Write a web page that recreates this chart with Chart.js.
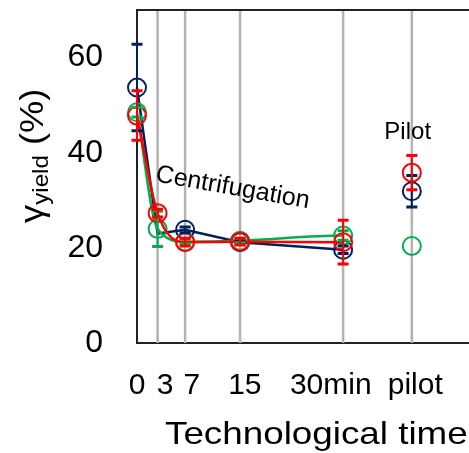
<!DOCTYPE html>
<html>
<head>
<meta charset="utf-8">
<script src="https://cdn.jsdelivr.net/npm/chart.js@4.4.1/dist/chart.umd.min.js"></script>
<style>
  html, body { margin: 0; padding: 0; background: #fff; overflow: hidden; }
  canvas { display: block; }
</style>
</head>
<body>
<!-- a little wider than the window: the plot box runs off the right edge like the original -->
<canvas id="yieldChart" width="474" height="453"></canvas>
<script>
// x positions (min), pilot plant put at 40
const times = [0, 3, 7, 15, 30, 40];
const timeLabels = ["0", "3", "7", "15", "30min", "pilot"];
const labelSpots = [0, 4.1, 8, 15.7, 28.2, 40.5];
const yTicks = [0, 20, 40, 60];

// yield values per run
const blueYield = [53.7, 23.0, 23.8, 21.2, 19.6, 31.9];
const blueErr = [9.1, 0, 0.6, 0.5, 0.8, 3.3];
const greenYield = [48.5, 24.0, 21.3, 21.5, 22.6, 20.4];
const greenErr = [1.0, 3.7, 0.5, 0.5, 1.0, 0];
const redYield = [47.8, 27.3, 21.2, 21.3, 21.2, 35.8];
const redErr = [5.2, 0.8, 0.8, 0.7, 4.6, 3.6];

const NAVY = "#002060";
const GREEN = "#00b050";
const RED = "#ff0000";
const FONT = "'Liberation Sans', Arial, sans-serif";

const toPoints = (vals) => vals.map((v, i) => ({ x: times[i], y: v }));

// no line between 30 min and pilot
const hidePilotSegment = {
  borderColor: (ctx) => (ctx.p1DataIndex === times.length - 1 ? "transparent" : undefined),
};

const errorBars = {
  id: "errorBars",
  afterDatasetsDraw(chart) {
    const { ctx, scales, chartArea } = chart;
    ctx.save();
    // keep the open right side of the plot box clean
    ctx.fillStyle = "#fff";
    ctx.fillRect(462, chartArea.top + 2, chart.width - 462, chartArea.bottom - chartArea.top - 4);

    const sets = [
      [blueYield, blueErr, NAVY],
      [greenYield, greenErr, GREEN],
      [redYield, redErr, RED],
    ];
    sets.forEach(([vals, errs, color]) => {
      ctx.strokeStyle = color;
      vals.forEach((v, i) => {
        if (!errs[i]) return;
        const x = scales.x.getPixelForValue(times[i]);
        const top = scales.y.getPixelForValue(v + errs[i]);
        const bot = scales.y.getPixelForValue(v - errs[i]);
        ctx.lineWidth = 2;
        ctx.beginPath();
        ctx.moveTo(x, top);
        ctx.lineTo(x, bot);
        ctx.stroke();
        ctx.lineWidth = 3;
        ctx.beginPath();
        ctx.moveTo(x - 5.5, top);
        ctx.lineTo(x + 5.5, top);
        ctx.moveTo(x - 5.5, bot);
        ctx.lineTo(x + 5.5, bot);
        ctx.stroke();
      });
    });
    ctx.restore();
  },
};

const frame = {
  id: "frame",
  beforeDatasetsDraw(chart) {
    const { ctx, chartArea, scales } = chart;
    ctx.save();
    // vertical grid lines at each sampling time
    ctx.strokeStyle = "#b3b3b3";
    ctx.lineWidth = 2.5;
    times.forEach((t) => {
      if (t === 0) return;
      const x = scales.x.getPixelForValue(t);
      ctx.beginPath();
      ctx.moveTo(x, chartArea.top);
      ctx.lineTo(x, chartArea.bottom);
      ctx.stroke();
    });
    // top border
    ctx.strokeStyle = "#222";
    ctx.lineWidth = 2;
    ctx.beginPath();
    ctx.moveTo(chartArea.left - 1, chartArea.top);
    ctx.lineTo(chartArea.right, chartArea.top);
    ctx.stroke();
    ctx.restore();
  },
  afterDraw(chart) {
    const { ctx, scales } = chart;
    ctx.save();
    ctx.fillStyle = "#000";
    ctx.textBaseline = "alphabetic";

    // x title (reference text is a bit wide)
    ctx.font = "32px " + FONT;
    ctx.textAlign = "left";
    ctx.translate(165, 444);
    ctx.scale(1.15, 1);
    ctx.fillText("Technological time", 0, 0);
    ctx.setTransform(1, 0, 0, 1, 0, 0);

    // y title, rotated: gamma with subscript
    ctx.translate(43, 223);
    ctx.rotate(-Math.PI / 2);
    ctx.scale(1.1, 1);
    ctx.font = "33px " + FONT;
    ctx.fillText("γ", 0, 0);
    let w = ctx.measureText("γ").width;
    ctx.font = "22px " + FONT;
    ctx.fillText("yield", w, 5);
    w += ctx.measureText("yield").width;
    ctx.font = "33px " + FONT;
    ctx.fillText(" (%)", w, 0);
    ctx.setTransform(1, 0, 0, 1, 0, 0);

    // annotations
    ctx.font = "24px " + FONT;
    ctx.textAlign = "center";
    ctx.fillText("Pilot", scales.x.getPixelForValue(39.4), scales.y.getPixelForValue(42.8));

    ctx.translate(scales.x.getPixelForValue(2.6), scales.y.getPixelForValue(34.0));
    ctx.rotate((10 * Math.PI) / 180);
    ctx.textAlign = "left";
    ctx.font = "25px " + FONT;
    ctx.fillText("Centrifugation", 0, 0);
    ctx.restore();
  },
};

const series = (label, vals, color, order, tension, radii) => ({
  label,
  data: toPoints(vals),
  borderColor: color,
  backgroundColor: "transparent",
  borderWidth: 2.5,
  pointRadius: radii || 9,
  pointBorderWidth: 2,
  pointBorderColor: color,
  pointBackgroundColor: "transparent",
  tension,
  cubicInterpolationMode: tension ? "monotone" : "default",
  segment: hidePilotSegment,
  clip: false,
  order,
});

new Chart(document.getElementById("yieldChart"), {
  type: "line",
  data: {
    datasets: [
      series("run 1", blueYield, NAVY, 2, 0, [9, 0, 9, 9, 9, 9]),
      series("run 2", greenYield, GREEN, 1, 0.4),
      series("run 3", redYield, RED, 0, 0.4),
    ],
  },
  plugins: [frame, errorBars],
  options: {
    responsive: false,
    animation: false,
    devicePixelRatio: 1,
    layout: { autoPadding: false, padding: { top: 10, left: 0, right: 0, bottom: 0 } },
    plugins: { legend: { display: false }, tooltip: { enabled: false } },
    scales: {
      x: {
        type: "linear",
        min: 0,
        max: 49.05,
        afterBuildTicks: (s) => {
          s.ticks = labelSpots.map((v) => ({ value: v }));
        },
        afterFit: (s) => {
          s.height = 110;
          s.paddingLeft = 0;
          s.paddingRight = 0;
        },
        ticks: {
          autoSkip: false,
          maxRotation: 0,
          padding: 25,
          color: "#000",
          font: { family: FONT, size: 30 },
          callback: (v, i) => timeLabels[i],
        },
        grid: { display: false, drawTicks: false },
        border: { display: true, color: "#222", width: 2 },
      },
      y: {
        min: 0,
        max: 70,
        afterBuildTicks: (s) => {
          s.ticks = yTicks.map((v) => ({ value: v }));
        },
        afterFit: (s) => {
          s.width = 137;
          s.paddingTop = 0;
          s.paddingBottom = 0;
        },
        ticks: {
          padding: 34,
          color: "#000",
          font: { family: FONT, size: 32 },
        },
        grid: { display: false, drawTicks: false },
        border: { display: true, color: "#222", width: 2 },
      },
    },
  },
});
</script>
</body>
</html>
